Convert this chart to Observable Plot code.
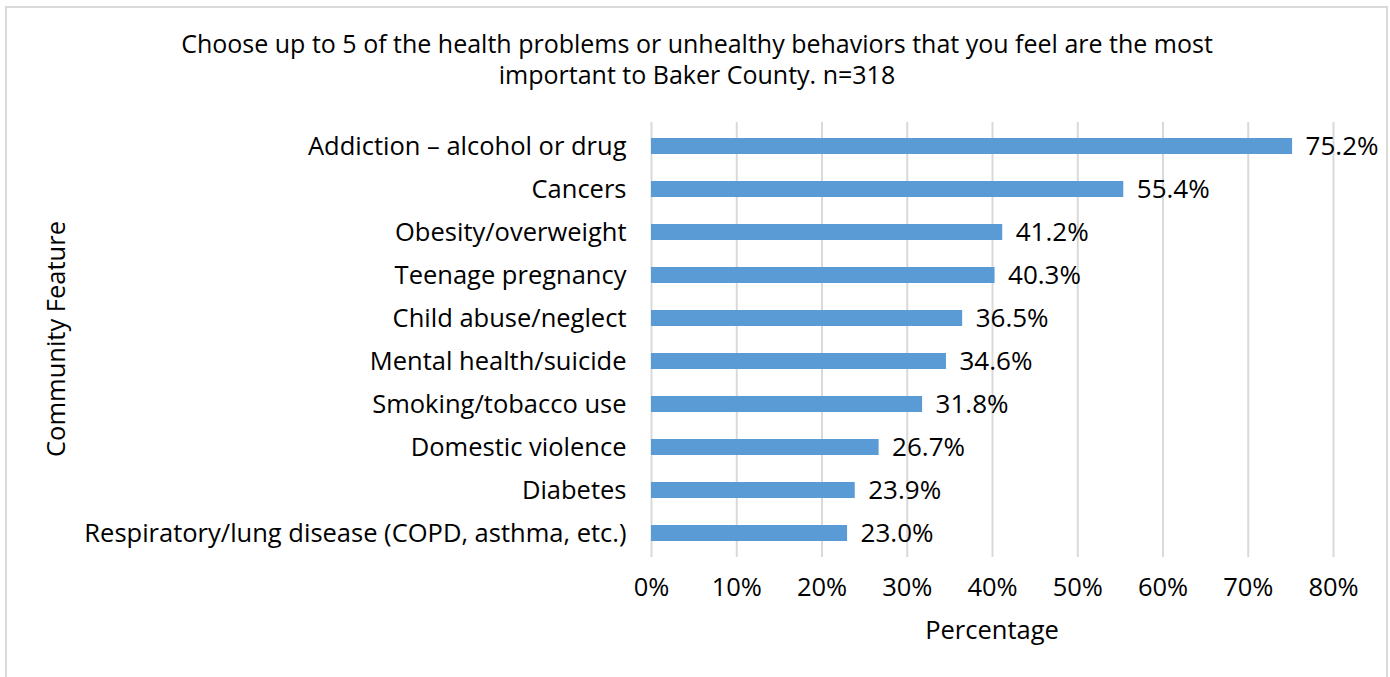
<!DOCTYPE html>
<html>
<head>
<meta charset="utf-8">
<script src="https://cdn.jsdelivr.net/npm/d3@7"></script>
<script src="https://cdn.jsdelivr.net/npm/@observablehq/plot@0.6"></script>
<style>
  html, body { margin: 0; padding: 0; background: #fff; width: 1390px; height: 677px; overflow: hidden; }
  #frame { position: absolute; left: 5px; top: 6px; width: 1383px; height: 700px; border: 2px solid #d9d9d9; box-sizing: border-box; }
  .txt { position: absolute; font-family: "Open Sans", "Liberation Sans", Arial, sans-serif; color: #000; white-space: nowrap; }
  #title { left: 0; top: 28px; width: 1394px; text-align: center; font-size: 25px; line-height: 31px; }
  #xlabel { left: 892px; width: 200px; top: 613px; text-align: center; font-size: 25.5px; line-height: 32px; }
  #ylabel { left: 55px; top: 339px; font-size: 25.5px; line-height: 32px; transform: translate(-50%, -50%) rotate(-90deg); }
  #chart { position: absolute; left: 0; top: 0; }
</style>
</head>
<body>
<div id="frame"></div>
<div id="chart"></div>
<div id="title" class="txt">Choose up to 5 of the health problems or unhealthy behaviors that you feel are the most<br>important to Baker County. n=318</div>
<div id="xlabel" class="txt">Percentage</div>
<div id="ylabel" class="txt">Community Feature</div>
<script>
const categories = [
  "Addiction – alcohol or drug",
  "Cancers",
  "Obesity/overweight",
  "Teenage pregnancy",
  "Child abuse/neglect",
  "Mental health/suicide",
  "Smoking/tobacco use",
  "Domestic violence",
  "Diabetes",
  "Respiratory/lung disease (COPD, asthma, etc.)"
];
const values = [75.2, 55.4, 41.2, 40.3, 36.5, 34.6, 31.8, 26.7, 23.9, 23.0];
const xTicks = [0, 10, 20, 30, 40, 50, 60, 70, 80];

const data = categories.map((c, i) => ({category: c, value: values[i]}));

const chart = Plot.plot({
  width: 1390,
  height: 677,
  marginTop: 122,
  marginBottom: 120,
  marginLeft: 651,
  marginRight: 57,
  style: { fontFamily: "Open Sans, Liberation Sans, Arial, sans-serif", fontSize: "25.5px", color: "#000", background: "transparent" },
  x: { domain: [0, 80], ticks: xTicks, tickFormat: d => d + "%", label: null },
  y: { domain: categories, paddingInner: 0.63, paddingOuter: 0.315, label: null },
  marks: [
    Plot.ruleX(xTicks, { stroke: "#d9d9d9", strokeWidth: 2 }),
    Plot.barX(data, { x: "value", y: "category", fill: "#5b9bd5" }),
    Plot.text(data, { x: "value", y: "category", text: d => d.value.toFixed(1) + "%", textAnchor: "start", dx: 13, fontSize: 26, fill: "#000" }),
    Plot.axisX(xTicks, { tickSize: 0, tickPadding: 20, tickFormat: d => d + "%", fontSize: 25.5, label: null }),
    Plot.axisY({ tickSize: 0, tickPadding: 25, fontSize: 25.5, label: null })
  ]
});
document.getElementById("chart").appendChild(chart);
</script>
</body>
</html>
